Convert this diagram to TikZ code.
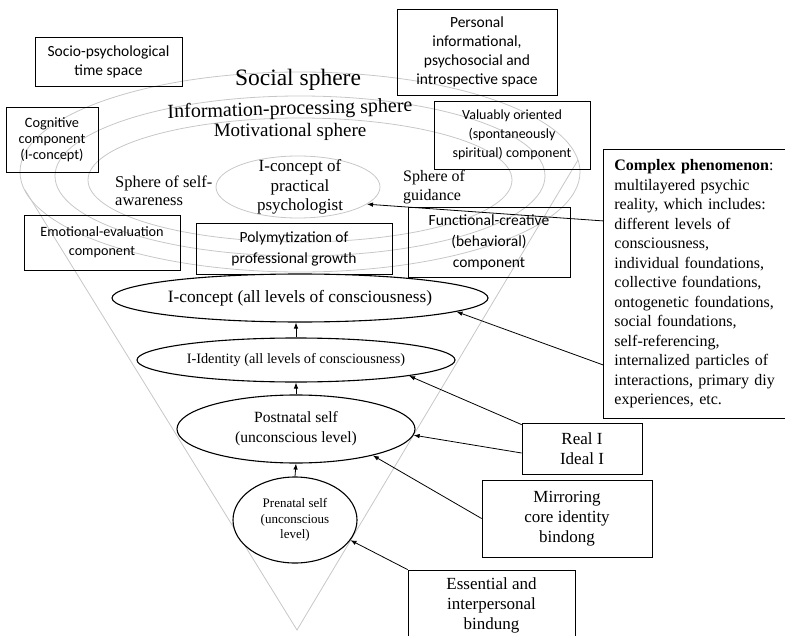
\documentclass[tikz,border=0pt]{standalone}
\usepackage{fontspec}
\setmainfont{Liberation Serif}
\newfontfamily\boxsans{Carlito}
\usetikzlibrary{shapes.geometric,arrows.meta}
\newcommand{\fsz}[2]{\fontsize{#1bp}{#2bp}\selectfont}

\begin{document}
\begin{tikzpicture}[x=1bp, y=-1bp,
    sansbox/.style={rectangle, draw, line width=0.8bp, align=center, inner sep=2bp, font=\boxsans\fsz{15.5}{19}},
    serifbox/.style={rectangle, draw, line width=0.8bp, align=center, inner sep=2bp, font=\fsz{17}{20}},
    sphere/.style={draw=black!22, line width=0.8bp},
    selfnode/.style={ellipse, draw, fill=white, line width=1.1bp, inner sep=0pt, align=center},
    link/.style={-{Latex[length=6bp,width=4.5bp]}, line width=0.8bp}]
    \useasboundingbox (0,0) rectangle (785,636);

    \draw[sphere] (300,172) ellipse [x radius=280, y radius=100];
    \draw[sphere] (300,176) ellipse [x radius=245, y radius=80];
    \draw[sphere] (300,180) ellipse [x radius=212, y radius=62];
    \draw[sphere] (25,190) -- (297,630) -- (578,160);
    \node[ellipse, sphere, minimum width=164bp, minimum height=62bp, inner sep=0pt] (core) at (298,187) {};
    \node[align=center, font=\fsz{17}{19.5}] (core_txt) at (300,187) {I-concept of\\practical\\psychologist};

    \node[font=\fsz{23.5}{26}] (social) at (298,80) {Social sphere};
    \node[font=\fsz{20}{22}, rotate=1.5, inner sep=0pt] (info) at (290,110) {Information-processing sphere};
    \node[font=\fsz{19}{21}, inner sep=0pt] (motiv) at (290,132) {Motivational sphere};
    \node[font=\fsz{16.5}{18}, align=left, anchor=west, inner sep=1bp] (self_aw) at (114,191) {Sphere of self-\\awareness};
    \node[font=\fsz{16}{19}, align=left, anchor=west, inner sep=1bp] (guid) at (402,187.5) {Sphere of\\guidance};

    \node[sansbox, minimum width=147bp, minimum height=49bp] (socio) at (108.5,61.5) {Socio-psychological\\time space};
    \node[sansbox, minimum width=160bp, minimum height=86bp] (pers_space) at (477,52) {Personal\\informational,\\psychosocial and\\introspective space};
    \node[sansbox, minimum width=92bp, minimum height=65bp, font=\boxsans\fsz{14.3}{16}] (cog) at (52,139.5) {Cognitive\\component\\(I-concept)};
    \node[sansbox, minimum width=156bp, minimum height=68bp, font=\boxsans\fsz{14}{19}] (val) at (512,135) {Valuably oriented\\(spontaneously\\spiritual) component};
    \node[sansbox, minimum width=156bp, minimum height=55bp, font=\boxsans\fsz{14.2}{19}] (emo) at (102,242.5) {Emotional-evaluation\\component};
    \node[sansbox, minimum width=196bp, minimum height=51bp, font=\boxsans\fsz{15.5}{21}] (polym) at (294,248.5) {Polymytization of\\professional growth};
    \node[sansbox, minimum width=162bp, minimum height=70bp, font=\boxsans\fsz{15.5}{21}] (func) at (489,242) {Functional-creative\\(behavioral)\\component};

    \node[serifbox, anchor=north west, align=left, text width=182bp, inner xsep=11bp, minimum height=269bp, font=\fsz{16}{19.5}] (compl) at (603,149) {\textbf{Complex phenomenon}:\\multilayered psychic\\reality, which includes:\\different levels of\\consciousness,\\individual foundations,\\collective foundations,\\ontogenetic foundations,\\social foundations,\\self-referencing,\\internalized particles of\\interactions, primary diy\\experiences, etc.};
    \node[serifbox, minimum width=120bp, minimum height=51bp, font=\fsz{17}{19.5}] (real_i) at (582,448.5) {Real I\\Ideal I};
    \node[serifbox, minimum width=170bp, minimum height=77bp] (mirr) at (567,518.5) {Mirroring\\core identity\\bindong};
    \node[serifbox, minimum width=167bp, minimum height=70bp] (ess) at (491.5,605) {Essential and\\interpersonal\\bindung};

    \node[selfnode, minimum width=376bp, minimum height=48bp, font=\fsz{17.3}{20}] (i_conc) at (300,298) {I-concept (all levels of consciousness)};
    \node[selfnode, minimum width=318bp, minimum height=44bp, font=\fsz{14.3}{17}] (i_ident) at (296,360) {I-Identity (all levels of consciousness)};
    \node[selfnode, minimum width=238bp, minimum height=68bp, font=\fsz{15.6}{20}] (post) at (296,429) {Postnatal self\\(unconscious level)};
    \node[selfnode, minimum width=124bp, minimum height=86bp, font=\fsz{13}{15.5}] (pre) at (295,520) {Prenatal self\\(unconscious\\level)};

    \draw[link] (pre.north) -- (post.south);
    \draw[link] (post.north) -- (i_ident.south);
    \draw[link] (i_ident.north) -- (i_ident.north |- i_conc.south);
    \draw[link] ([yshift=63bp]compl.west) -- (core.-14);
    \draw[link] ([yshift=-81bp]compl.west) -- (i_conc.-5);
    \draw[link] ([yshift=-2bp]real_i.north west) -- (i_ident.-8);
    \draw[link] ([yshift=-4.5bp]real_i.west) -- (post.-3);
    \draw[link] (mirr.west) -- (post.-19);
    \draw[link] (ess.north west) -- (pre.-20);
\end{tikzpicture}
\end{document}
